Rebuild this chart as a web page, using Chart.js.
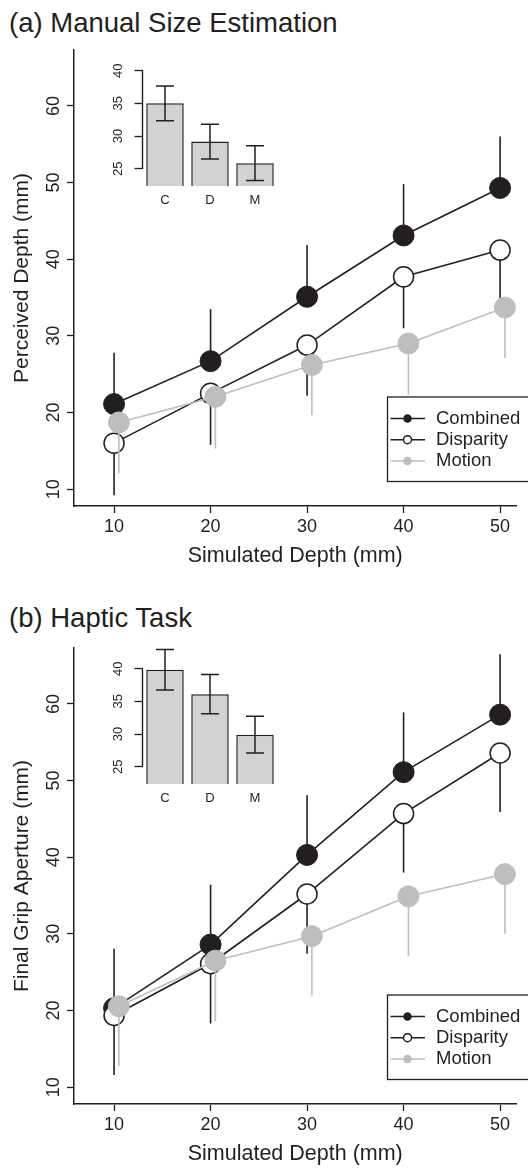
<!DOCTYPE html>
<html>
<head>
<meta charset="utf-8">
<script src="https://cdn.jsdelivr.net/npm/chart.js@4.4.1/dist/chart.umd.min.js"></script>
<style>
  html, body { margin: 0; padding: 0; background: #fff; }
  #page { position: relative; width: 528px; height: 1168px; overflow: hidden;
          font-family: "Liberation Sans", Arial, Helvetica, sans-serif; color: #231f20; }
  .panel-title { position: absolute; left: 9px; font-size: 27.5px; line-height: 1; white-space: nowrap; }
  canvas { position: absolute; }
</style>
</head>
<body>
<div id="page">
  <div class="panel-title" style="top:9px">(a) Manual Size Estimation</div>
  <canvas id="mainA" width="528" height="570" style="left:0;top:0"></canvas>
  <canvas id="insetA" width="210" height="180" style="left:80px;top:40px"></canvas>

  <div class="panel-title" style="top:604px">(b) Haptic Task</div>
  <canvas id="mainB" width="528" height="570" style="left:0;top:598px"></canvas>
  <canvas id="insetB" width="210" height="180" style="left:80px;top:638px"></canvas>
</div>
<script>
// --- data ---
const depths = [10, 20, 30, 40, 50];
const depthTicks = [10, 20, 30, 40, 50];
const mainYTicks = [10, 20, 30, 40, 50, 60];
const insetYTicks = [25, 30, 35, 40];
const seriesNames = ['Combined', 'Disparity', 'Motion'];
const insetLabels = ['C', 'D', 'M'];

// (a) manual size estimation
const manualCombined = [21.1, 26.7, 35.1, 43.1, 49.3];
const manualCombinedSd = [6.7, 6.8, 6.75, 6.7, 6.7];
const manualDisparity = [16.0, 22.5, 28.8, 37.7, 41.2];
const manualDisparitySd = [6.8, 6.7, 6.6, 6.7, 6.8];
const manualMotion = [18.7, 22.05, 26.2, 29.0, 33.7];
const manualMotionSd = [6.65, 6.75, 6.55, 6.7, 6.6];
const manualInsetMeans = [35.0, 29.15, 25.85];
const manualInsetSe = [2.65, 2.65, 2.65];

// (b) haptic task
const hapticCombined = [20.3, 28.6, 40.3, 51.1, 58.6];
const hapticCombinedSd = [7.75, 7.8, 7.8, 7.8, 7.9];
const hapticDisparity = [19.35, 26.1, 35.2, 45.7, 53.6];
const hapticDisparitySd = [7.75, 7.8, 7.8, 7.7, 7.7];
const hapticMotion = [20.55, 26.5, 29.7, 34.9, 37.8];
const hapticMotionSd = [7.75, 7.9, 7.75, 7.8, 7.8];
const hapticInsetMeans = [39.85, 36.1, 29.9];
const hapticInsetSe = [3.1, 3.0, 2.8];

// --- styles ---
const ink = '#231f20';
const grey = '#bcbec0';
const barFill = '#d1d2d4';
const motionShift = 0.5; // motion points are nudged right so bars don't overlap

Chart.defaults.font.family = '"Liberation Sans", Arial, Helvetica, sans-serif';
Chart.defaults.color = ink;

// error bars drawn just before each series, so later series sit on top
const errorBars = {
  id: 'errorBars',
  beforeDatasetDraw(chart, args) {
    const ds = chart.data.datasets[args.index];
    if (!ds.sd) return;
    const xs = chart.scales.x, ys = chart.scales.y, ctx = chart.ctx;
    ctx.save();
    ctx.strokeStyle = ds.borderColor;
    ctx.lineWidth = 1.6;
    ds.data.forEach((p, i) => {
      const px = xs.getPixelForValue(p.x);
      ctx.beginPath();
      ctx.moveTo(px, ys.getPixelForValue(p.y));
      ctx.lineTo(px, ys.getPixelForValue(p.y + ds.errDir * ds.sd[i]));
      ctx.stroke();
    });
    ctx.restore();
  }
};

// R-style boxed legend in the lower right, running off the edge
const boxLegend = {
  id: 'boxLegend',
  afterDraw(chart) {
    const ctx = chart.ctx;
    const left = 387.5, top = 397, bottom = 481.5;
    ctx.save();
    ctx.fillStyle = '#fff';
    ctx.strokeStyle = ink;
    ctx.lineWidth = 1.3;
    ctx.fillRect(left, top, 160, bottom - top);
    ctx.strokeRect(left, top, 160, bottom - top);
    ctx.font = '18.5px "Liberation Sans", Arial, sans-serif';
    ctx.textBaseline = 'middle';
    chart.data.datasets.forEach((ds, i) => {
      const y = 418.5 + i * 21.2;
      ctx.strokeStyle = ds.borderColor;
      ctx.lineWidth = 1.5;
      ctx.beginPath();
      ctx.moveTo(390.5, y);
      ctx.lineTo(425, y);
      ctx.stroke();
      ctx.beginPath();
      ctx.arc(407.5, y, ds.pointBackgroundColor === '#fff' ? 4 : 3.5, 0, Math.PI * 2);
      ctx.fillStyle = ds.pointBackgroundColor;
      ctx.fill();
      ctx.stroke();
      ctx.fillStyle = ink;
      ctx.fillText(ds.label, 436, y + 0.5);
    });
    ctx.restore();
  }
};

function buildMain(id, yTitle, comb, combSd, disp, dispSd, mot, motSd) {
  const axisGrid = { drawOnChartArea: false, drawTicks: true, tickLength: 7, tickWidth: 1.3, tickColor: ink };
  const axisBorder = { display: true, color: ink, width: 1.5 };
  new Chart(document.getElementById(id), {
    type: 'scatter',
    data: {
      datasets: [
        {
          label: seriesNames[0],
          data: depths.map((d, i) => ({ x: d, y: comb[i] })),
          sd: combSd, errDir: 1,
          showLine: true, borderColor: ink, borderWidth: 1.6,
          pointBackgroundColor: ink, pointBorderColor: ink,
          pointRadius: 10.5, pointBorderWidth: 1, order: 3, clip: false
        },
        {
          label: seriesNames[1],
          data: depths.map((d, i) => ({ x: d, y: disp[i] })),
          sd: dispSd, errDir: -1,
          showLine: true, borderColor: ink, borderWidth: 1.6,
          pointBackgroundColor: '#fff', pointBorderColor: ink,
          pointRadius: 10, pointBorderWidth: 1.5, order: 2, clip: false
        },
        {
          label: seriesNames[2],
          data: depths.map((d, i) => ({ x: d + motionShift, y: mot[i] })),
          sd: motSd, errDir: -1,
          showLine: true, borderColor: grey, borderWidth: 1.6,
          pointBackgroundColor: grey, pointBorderColor: grey,
          pointRadius: 10.5, pointBorderWidth: 1, order: 1, clip: false
        }
      ]
    },
    options: {
      responsive: false,
      animation: false,
      events: [],
      layout: { padding: { top: 50, left: 0, right: 0, bottom: 0 } },
      plugins: { legend: { display: false }, tooltip: { enabled: false } },
      scales: {
        x: {
          type: 'linear', min: 5.85, max: 51.7,
          afterBuildTicks: s => { s.ticks = depthTicks.map(v => ({ value: v })); },
          afterFit: s => { s.height = 64; },
          border: axisBorder,
          grid: axisGrid,
          ticks: { autoSkip: false, maxRotation: 0, padding: 3.5, color: ink, font: { size: 18 } },
          title: { display: true, text: 'Simulated Depth (mm)', color: ink, font: { size: 21.5 }, padding: { top: 0, bottom: 1 } }
        },
        y: {
          type: 'linear', min: 7.8, max: 67.3,
          afterBuildTicks: s => { s.ticks = mainYTicks.map(v => ({ value: v })); },
          afterFit: s => { s.width = 74; },
          border: axisBorder,
          grid: axisGrid,
          ticks: { autoSkip: false, minRotation: 90, maxRotation: 90, crossAlign: 'center', padding: 3.2, color: ink, font: { size: 18 } },
          title: { display: true, text: yTitle, color: ink, font: { size: 21 }, padding: { top: 10, bottom: 0 } }
        }
      }
    },
    plugins: [errorBars, boxLegend]
  });
}

// inset: axis line only between first and last tick, like R's axis()
const insetAxis = {
  id: 'insetAxis',
  afterDraw(chart) {
    const ys = chart.scales.y, ctx = chart.ctx;
    const x = chart.chartArea.left;
    ctx.save();
    ctx.strokeStyle = ink;
    ctx.lineWidth = 1.4;
    ctx.beginPath();
    ctx.moveTo(x, ys.getPixelForValue(insetYTicks[0]));
    ctx.lineTo(x, ys.getPixelForValue(insetYTicks[insetYTicks.length - 1]));
    ctx.stroke();
    ctx.restore();
  }
};

const barErrors = {
  id: 'barErrors',
  afterDatasetsDraw(chart) {
    const ds = chart.data.datasets[0];
    const meta = chart.getDatasetMeta(0);
    const ys = chart.scales.y, ctx = chart.ctx;
    ctx.save();
    ctx.strokeStyle = ink;
    ctx.lineWidth = 1.5;
    meta.data.forEach((bar, i) => {
      const hi = ys.getPixelForValue(ds.data[i] + ds.se[i]);
      const lo = ys.getPixelForValue(ds.data[i] - ds.se[i]);
      ctx.beginPath();
      ctx.moveTo(bar.x, hi); ctx.lineTo(bar.x, lo);
      ctx.moveTo(bar.x - 9, hi); ctx.lineTo(bar.x + 9, hi);
      ctx.moveTo(bar.x - 9, lo); ctx.lineTo(bar.x + 9, lo);
      ctx.stroke();
    });
    ctx.restore();
  }
};

function buildInset(id, means, se) {
  new Chart(document.getElementById(id), {
    type: 'bar',
    data: {
      labels: insetLabels,
      datasets: [{
        data: means, se: se,
        backgroundColor: barFill, borderColor: ink, borderWidth: 1.5,
        barPercentage: 0.833, categoryPercentage: 1
      }]
    },
    options: {
      responsive: false,
      animation: false,
      events: [],
      layout: { padding: { top: 26.1, right: 12.5, left: 0, bottom: 0 } },
      plugins: { legend: { display: false }, tooltip: { enabled: false } },
      scales: {
        x: {
          offset: true,
          afterFit: s => { s.height = 34; },
          grid: { display: false, drawTicks: false },
          border: { display: false },
          ticks: { color: ink, font: { size: 13 }, padding: 6.2 }
        },
        y: {
          min: 22.35, max: 40.7,
          afterBuildTicks: s => { s.ticks = insetYTicks.map(v => ({ value: v })); },
          afterFit: s => { s.width = 62.5; },
          border: { display: false },
          grid: { drawOnChartArea: false, drawTicks: true, tickLength: 8, tickWidth: 1.3, tickColor: ink },
          ticks: { autoSkip: false, minRotation: 90, maxRotation: 90, crossAlign: 'center', padding: 8.5, color: ink, font: { size: 13 } }
        }
      }
    },
    plugins: [insetAxis, barErrors]
  });
}

buildMain('mainA', 'Perceived Depth (mm)',
  manualCombined, manualCombinedSd, manualDisparity, manualDisparitySd, manualMotion, manualMotionSd);
buildInset('insetA', manualInsetMeans, manualInsetSe);

buildMain('mainB', 'Final Grip Aperture (mm)',
  hapticCombined, hapticCombinedSd, hapticDisparity, hapticDisparitySd, hapticMotion, hapticMotionSd);
buildInset('insetB', hapticInsetMeans, hapticInsetSe);
</script>
</body>
</html>
